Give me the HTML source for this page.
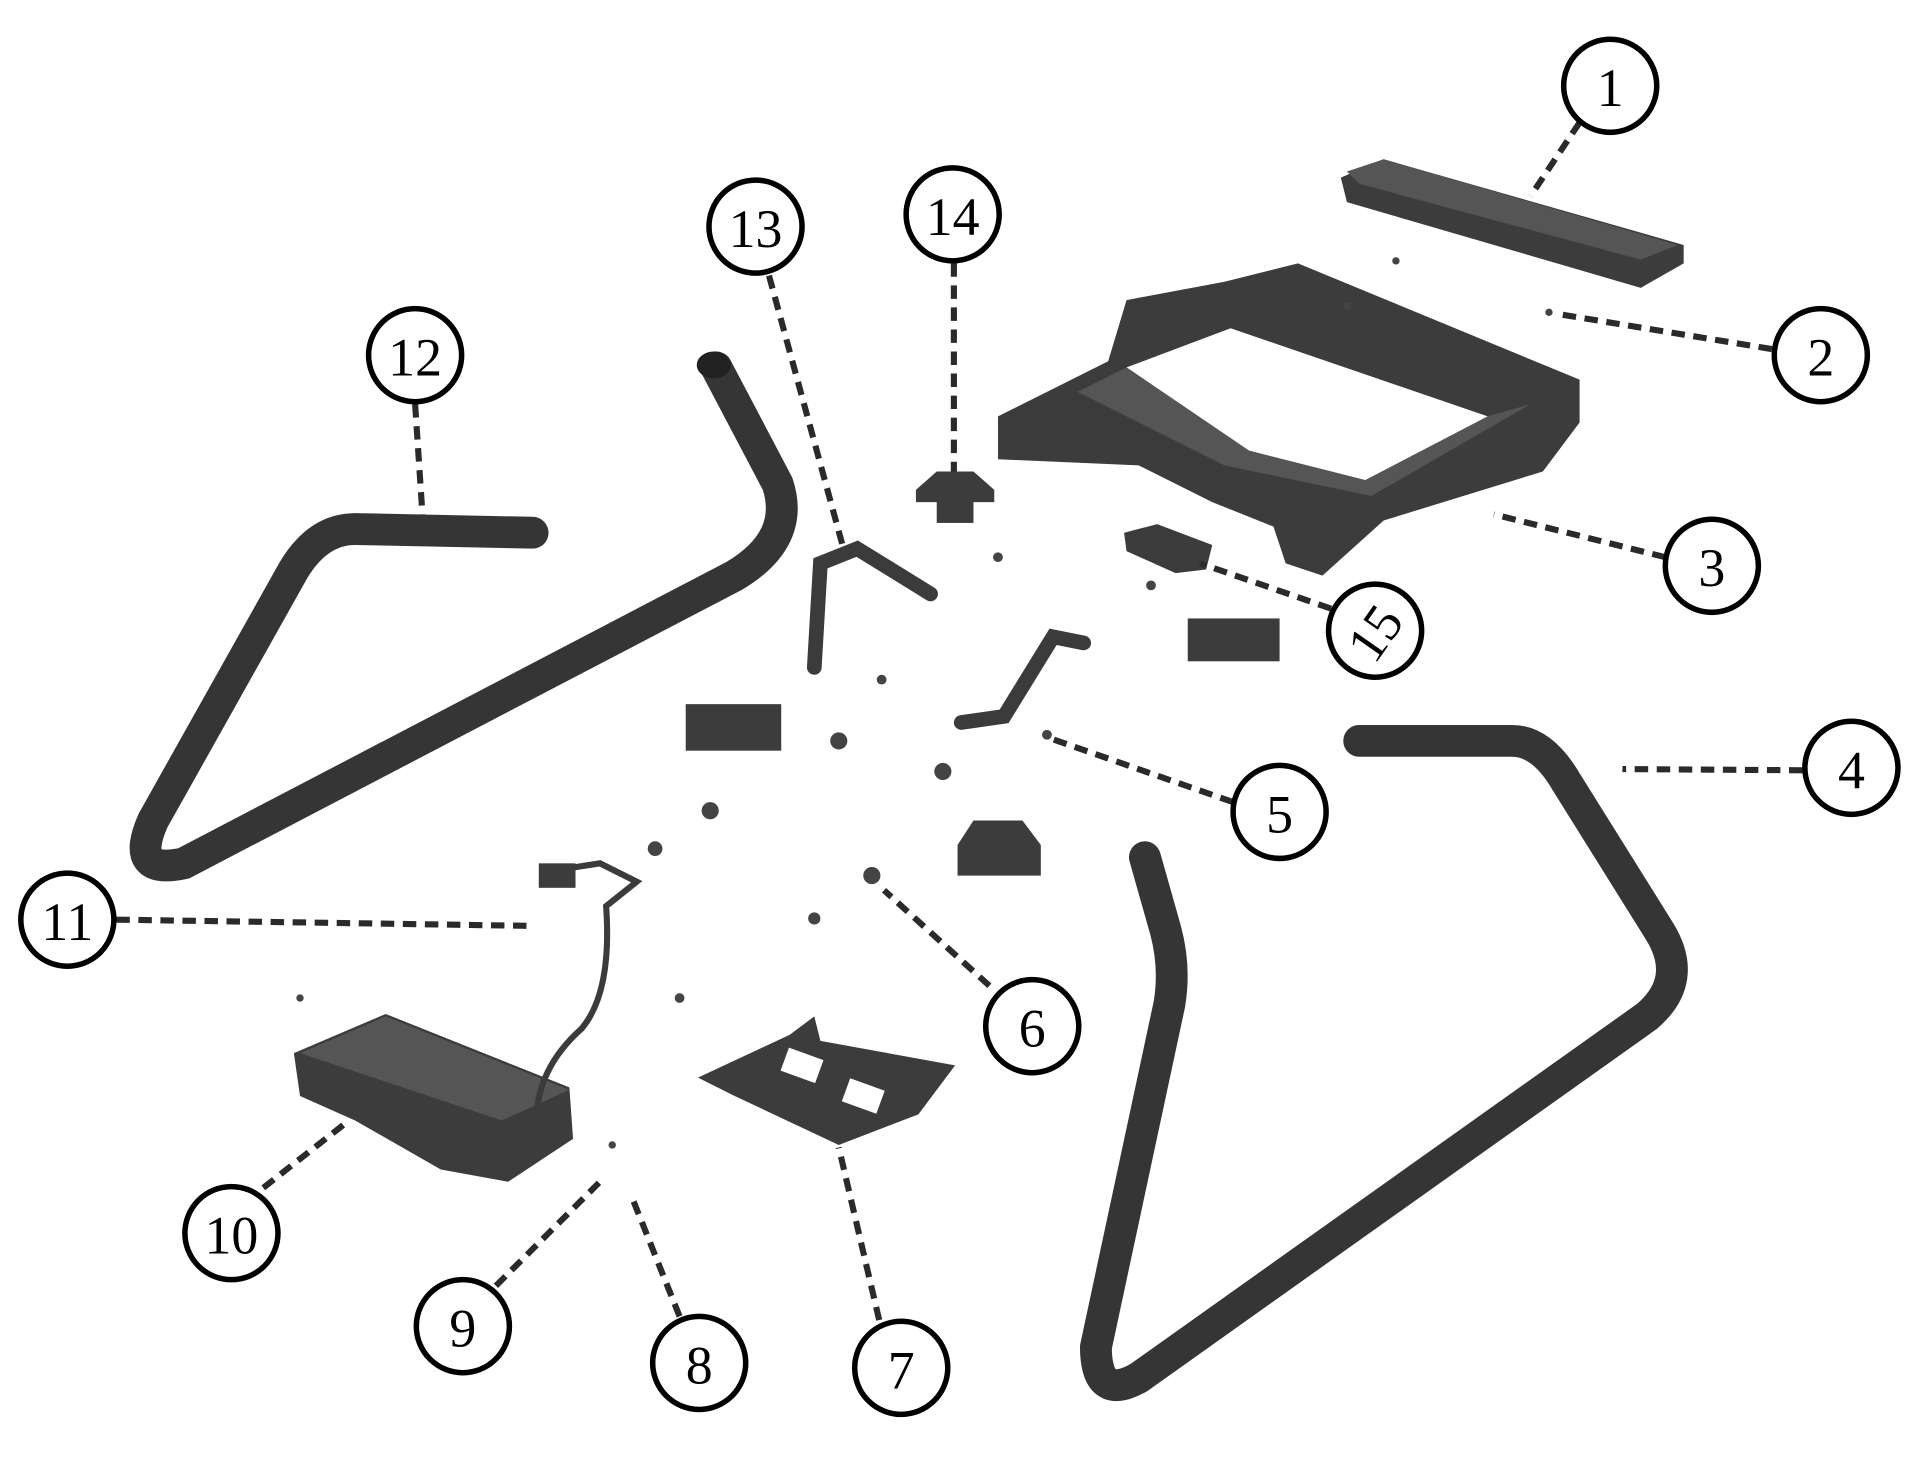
<!DOCTYPE html>
<html><head><meta charset="utf-8"><style>
html,body{margin:0;padding:0;background:#fff;width:1920px;height:1483px;overflow:hidden}
svg{display:block}
text{font-family:"Liberation Serif",serif;font-size:44px;fill:#000;text-anchor:middle;dominant-baseline:central}
.c{fill:#fff;stroke:#000;stroke-width:4.5}
.d{stroke:#2a2a2a;stroke-width:5;stroke-dasharray:11 7;fill:none}
.t{fill:none;stroke:#353535;stroke-width:26;stroke-linecap:round;stroke-linejoin:round}
.p{fill:#3c3c3c}
.q{fill:#555}
</style></head><body>
<svg width="1920" height="1483" viewBox="0 0 1568 1211" xmlns="http://www.w3.org/2000/svg">
<path class="t" d="M435 435 L290 432 Q260 432 240 465 L125 670 Q105 715 150 705 L600 470 Q650 440 635 395 L585 300"/>
<path class="t" d="M1110 605 L1235 605 Q1260 605 1280 640 L1355 760 Q1380 800 1345 830 L930 1125 Q895 1145 895 1100 L955 820 Q960 790 952 760 L935 700"/>
<ellipse cx="583" cy="298" rx="14" ry="11" fill="#222"/>
<polygon class="p" points="1095,145 1130,130 1375,200 1375,215 1340,235 1100,165"/>
<polygon class="q" points="1100,140 1130,130 1370,200 1340,212 1110,150"/>
<polygon class="p" points="815,340 905,295 920,245 1000,230 1060,215 1290,310 1290,345 1260,385 1130,425 1080,470 1050,460 1040,430 990,410 930,380 815,375"/>
<polygon fill="#fff" points="920,300 1005,268 1215,340 1115,392 1020,368"/>
<polygon class="q" points="880,320 920,300 1020,368 1115,392 1215,340 1250,330 1120,405 1000,380"/>
<polygon class="p" points="918,435 945,428 990,445 985,465 960,468 920,450"/>
<rect class="p" x="970" y="505" width="75" height="35"/>
<rect class="p" x="560" y="575" width="78" height="38"/>
<polygon class="p" points="748,400 765,385 795,385 812,400 812,410 748,410"/>
<rect class="p" x="765" y="395" width="30" height="32"/>
<polygon class="p" points="782,690 795,670 835,670 850,690 850,715 782,715"/>
<path d="M665 545 L670 460 L700 448 L760 485" stroke="#3b3b3b" stroke-width="12" fill="none" stroke-linecap="round"/>
<path d="M785 590 L820 585 L860 520 L885 525" stroke="#3b3b3b" stroke-width="12" fill="none" stroke-linecap="round"/>
<polygon class="p" points="570,880 645,845 665,830 670,850 780,870 750,910 685,935 600,895"/>
<rect x="640" y="860" width="30" height="20" fill="#fff" transform="rotate(20 655 870)"/>
<rect x="690" y="885" width="30" height="20" fill="#fff" transform="rotate(20 705 895)"/>
<polygon class="p" points="240,860 315,828 465,888 468,930 415,965 360,955 290,915 245,895"/>
<polygon class="q" points="245,860 315,830 465,890 410,915"/>
<path d="M440 935 Q430 880 475 840 Q500 810 495 740 L520 720 L490 705 L445 712" stroke="#3b3b3b" stroke-width="5" fill="none"/>
<rect x="440" y="705" width="30" height="20" class="p"/>
<g fill="#444"><circle cx="685" cy="605" r="7"/><circle cx="770" cy="630" r="7"/><circle cx="580" cy="662" r="7"/><circle cx="535" cy="693" r="6"/><circle cx="712" cy="715" r="7"/><circle cx="665" cy="750" r="5"/><circle cx="555" cy="815" r="4"/><circle cx="815" cy="455" r="4"/><circle cx="720" cy="555" r="4"/><circle cx="940" cy="478" r="4"/><circle cx="855" cy="600" r="4"/><circle cx="1140" cy="213" r="3"/><circle cx="1100" cy="250" r="3"/><circle cx="1265" cy="255" r="3"/><circle cx="245" cy="815" r="3"/><circle cx="500" cy="935" r="3"/></g>
<path class="d" d="M1290 100 L1250 160"/>
<path class="d" d="M1447 285 L1270 256"/>
<path class="d" d="M1360 455 L1220 420"/>
<path class="d" d="M1472 629 L1325 628"/>
<path class="d" d="M1007 655 L855 602"/>
<path class="d" d="M808 805 L722 727"/>
<path class="d" d="M718 1078 L685 937"/>
<path class="d" d="M555 1075 L515 975"/>
<path class="d" d="M405 1050 L490 965"/>
<path class="d" d="M215 970 L285 915"/>
<path class="d" d="M95 751 L430 756"/>
<path class="d" d="M339 330 L345 420"/>
<path class="d" d="M628 225 L688 445"/>
<path class="d" d="M779 215 L779 385"/>
<path class="d" d="M1087 497 L980 460"/>
<g>
<circle class="c" cx="1315" cy="70" r="38"/><text x="1315" y="72">1</text>
<circle class="c" cx="1487" cy="290" r="38"/><text x="1487" y="292">2</text>
<circle class="c" cx="1398" cy="462" r="38"/><text x="1398" y="464">3</text>
<circle class="c" cx="1512" cy="627" r="38"/><text x="1512" y="629">4</text>
<circle class="c" cx="1045" cy="663" r="38"/><text x="1045" y="665">5</text>
<circle class="c" cx="843" cy="838" r="38"/><text x="843" y="840">6</text>
<circle class="c" cx="736" cy="1117" r="38"/><text x="736" y="1119">7</text>
<circle class="c" cx="571" cy="1113" r="38"/><text x="571" y="1115">8</text>
<circle class="c" cx="378" cy="1083" r="38"/><text x="378" y="1085">9</text>
<circle class="c" cx="189" cy="1007" r="38"/><text x="189" y="1009">10</text>
<circle class="c" cx="55" cy="751" r="38"/><text x="55" y="753">11</text>
<circle class="c" cx="339" cy="290" r="38"/><text x="339" y="292">12</text>
<circle class="c" cx="617" cy="185" r="38"/><text x="617" y="187">13</text>
<circle class="c" cx="778" cy="175" r="38"/><text x="778" y="177">14</text>
<circle class="c" cx="1123" cy="515" r="38"/><text x="1123" y="517" transform="rotate(-55 1123 517)">15</text>
</g>
</svg>
</body></html>
